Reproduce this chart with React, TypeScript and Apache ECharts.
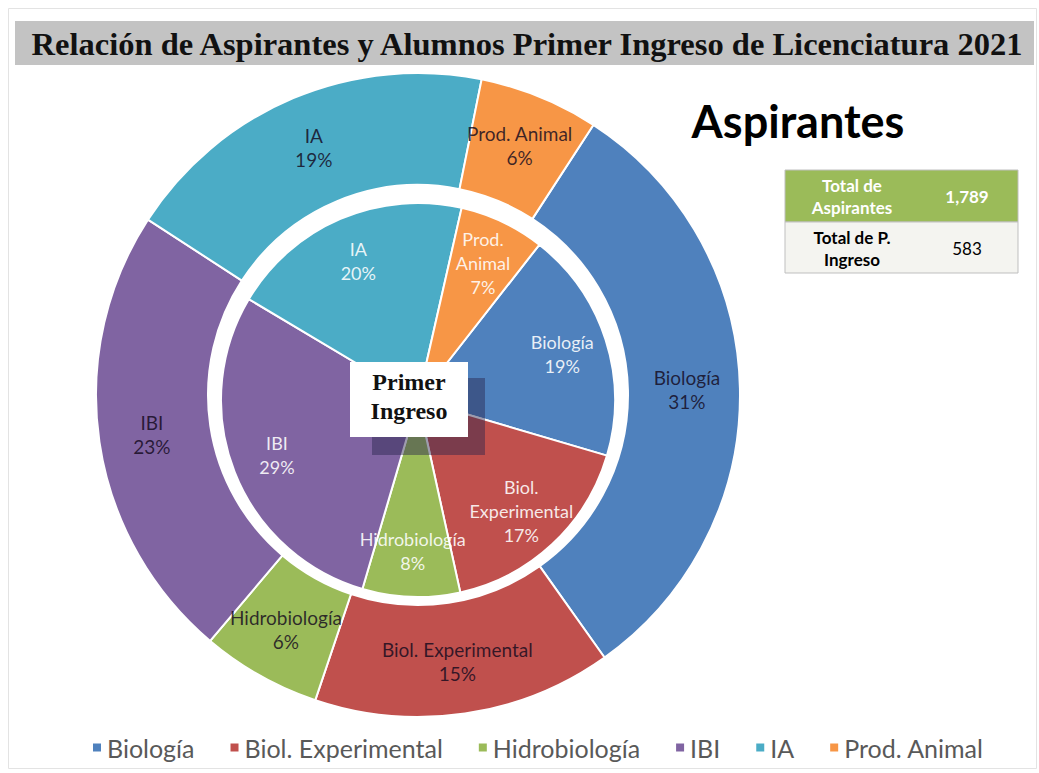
import React, { useEffect, useRef } from "react";
import * as echarts from "echarts";

const categories = ["Biología", "Biol. Experimental", "Hidrobiología", "IBI", "IA", "Prod. Animal"];
const colors = ["#4F81BD", "#C0504D", "#9BBB59", "#8064A2", "#4BACC6", "#F79646"];
const aspirantesPct = [31, 15, 6, 23, 19, 6];
const primerIngresoPct = [19, 17, 8, 29, 20, 7];
const outerLabelNames = ["Biología", "Biol. Experimental", "Hidrobiología", "IBI", "IA", "Prod. Animal"];
const innerLabelNames = ["Biología", "Biol.\nExperimental", "Hidrobiología", "IBI", "IA", "Prod.\nAnimal"];
const titleText = "Relación de Aspirantes y Alumnos Primer Ingreso de Licenciatura 2021";
const totalAspirantes = "1,789";
const totalIngreso = "583";

const sansFont = "Lato, 'Open Sans', sans-serif";

export default function App() {
  const ref = useRef<HTMLDivElement>(null);
  useEffect(() => {
    if (!ref.current) return;
    const chart = echarts.init(ref.current, null, { renderer: "svg" });
    const outerData = categories.map((name, i) => ({
      name,
      value: aspirantesPct[i],
      itemStyle: { color: colors[i] },
    }));
    const innerData = categories.map((name, i) => ({
      name,
      value: primerIngresoPct[i],
      itemStyle: { color: colors[i] },
    }));
    const option: any = {
      animation: false,
      backgroundColor: "#ffffff",
      legend: {
        data: categories,
        left: 86,
        top: 730,
        icon: "rect",
        itemWidth: 10,
        itemHeight: 10,
        itemGap: 34,
        textStyle: { fontFamily: sansFont, fontSize: 25, color: "#595959" },
      },
      series: [
        {
          name: "Aspirantes",
          type: "pie",
          center: [418, 395],
          radius: [210, 322],
          startAngle: 57,
          clockwise: true,
          avoidLabelOverlap: false,
          itemStyle: { borderColor: "#ffffff", borderWidth: 2 },
          label: {
            show: true,
            position: "inside",
            fontFamily: sansFont,
            fontSize: 19,
            lineHeight: 24,
            color: "rgba(20,10,30,0.82)",
            formatter: (p: any) => `${outerLabelNames[p.dataIndex]}\n${Math.round(p.percent)}%`,
          },
          labelLine: { show: false },
          data: outerData,
        },
        {
          name: "Primer Ingreso",
          type: "pie",
          center: [418, 400],
          radius: [0, 197],
          startAngle: 52,
          clockwise: true,
          avoidLabelOverlap: false,
          itemStyle: { borderColor: "#ffffff", borderWidth: 2 },
          label: { show: false },
          labelLine: { show: false },
          data: innerData,
        },
        {
          name: "Primer Ingreso etiquetas",
          type: "pie",
          center: [418, 400],
          radius: [100, 197],
          startAngle: 52,
          clockwise: true,
          silent: true,
          avoidLabelOverlap: false,
          itemStyle: { color: "rgba(0,0,0,0)", borderWidth: 0 },
          emphasis: { disabled: true },
          label: {
            show: true,
            position: "inside",
            fontFamily: sansFont,
            fontSize: 18,
            lineHeight: 24,
            color: "rgba(255,255,255,0.88)",
            formatter: (p: any) => `${innerLabelNames[p.dataIndex]}\n${Math.round(p.percent)}%`,
          },
          labelLine: { show: false },
          data: categories.map((name, i) => ({
            name,
            value: primerIngresoPct[i],
            itemStyle: { color: "rgba(0,0,0,0)" },
          })),
        },
      ],
      graphic: [
        {
          type: "rect",
          shape: { x: 8.5, y: 8.5, width: 1028, height: 760 },
          style: { fill: "none", stroke: "#e3e3e3", lineWidth: 1 },
          z: 0,
        },
        {
          type: "rect",
          shape: { x: 15, y: 21, width: 1019, height: 44 },
          style: { fill: "#c3c3c3" },
          z: 1,
        },
        {
          type: "text",
          x: 527,
          y: 44,
          style: {
            text: titleText,
            fill: "#111111",
            font: "bold 32.5px 'Liberation Serif', serif",
            align: "center",
            verticalAlign: "middle",
          },
          z: 2,
        },
        {
          type: "text",
          x: 798,
          y: 121,
          style: {
            text: "Aspirantes",
            fill: "#000000",
            font: `bold 45px ${sansFont}`,
            align: "center",
            verticalAlign: "middle",
          },
          z: 2,
        },
        {
          type: "rect",
          shape: { x: 785, y: 170, width: 233, height: 52 },
          style: { fill: "#9BBB59", stroke: "#bfbfbf", lineWidth: 1 },
          z: 1,
        },
        {
          type: "rect",
          shape: { x: 785, y: 222, width: 233, height: 51 },
          style: { fill: "#f4f4f0", stroke: "#bfbfbf", lineWidth: 1 },
          z: 1,
        },
        {
          type: "text",
          x: 852,
          y: 196,
          style: {
            text: "Total de\nAspirantes",
            fill: "#ffffff",
            font: `bold 17px ${sansFont}`,
            lineHeight: 22,
            align: "center",
            verticalAlign: "middle",
          },
          z: 2,
        },
        {
          type: "text",
          x: 967,
          y: 196,
          style: {
            text: totalAspirantes,
            fill: "#ffffff",
            font: `bold 17px ${sansFont}`,
            align: "center",
            verticalAlign: "middle",
          },
          z: 2,
        },
        {
          type: "text",
          x: 852,
          y: 248,
          style: {
            text: "Total de P.\nIngreso",
            fill: "#000000",
            font: `bold 17px ${sansFont}`,
            lineHeight: 22,
            align: "center",
            verticalAlign: "middle",
          },
          z: 2,
        },
        {
          type: "text",
          x: 967,
          y: 248,
          style: {
            text: totalIngreso,
            fill: "#000000",
            font: `17px ${sansFont}`,
            align: "center",
            verticalAlign: "middle",
          },
          z: 2,
        },
        {
          type: "rect",
          shape: { x: 372, y: 378, width: 113, height: 77 },
          style: { fill: "rgba(40,35,75,0.45)" },
          z: 10,
        },
        {
          type: "rect",
          shape: { x: 350, y: 362, width: 118, height: 75 },
          style: { fill: "#ffffff" },
          z: 11,
        },
        {
          type: "text",
          x: 409,
          y: 396,
          style: {
            text: "Primer\nIngreso",
            fill: "#111111",
            font: "bold 24px 'Liberation Serif', serif",
            lineHeight: 29,
            align: "center",
            verticalAlign: "middle",
          },
          z: 12,
        },
      ],
    };
    chart.setOption(option);
    return () => chart.dispose();
  }, []);
  return (
    <div
      ref={ref}
      style={{ position: "fixed", left: 0, top: 0, width: 1039, height: 773 }}
    />
  );
}
